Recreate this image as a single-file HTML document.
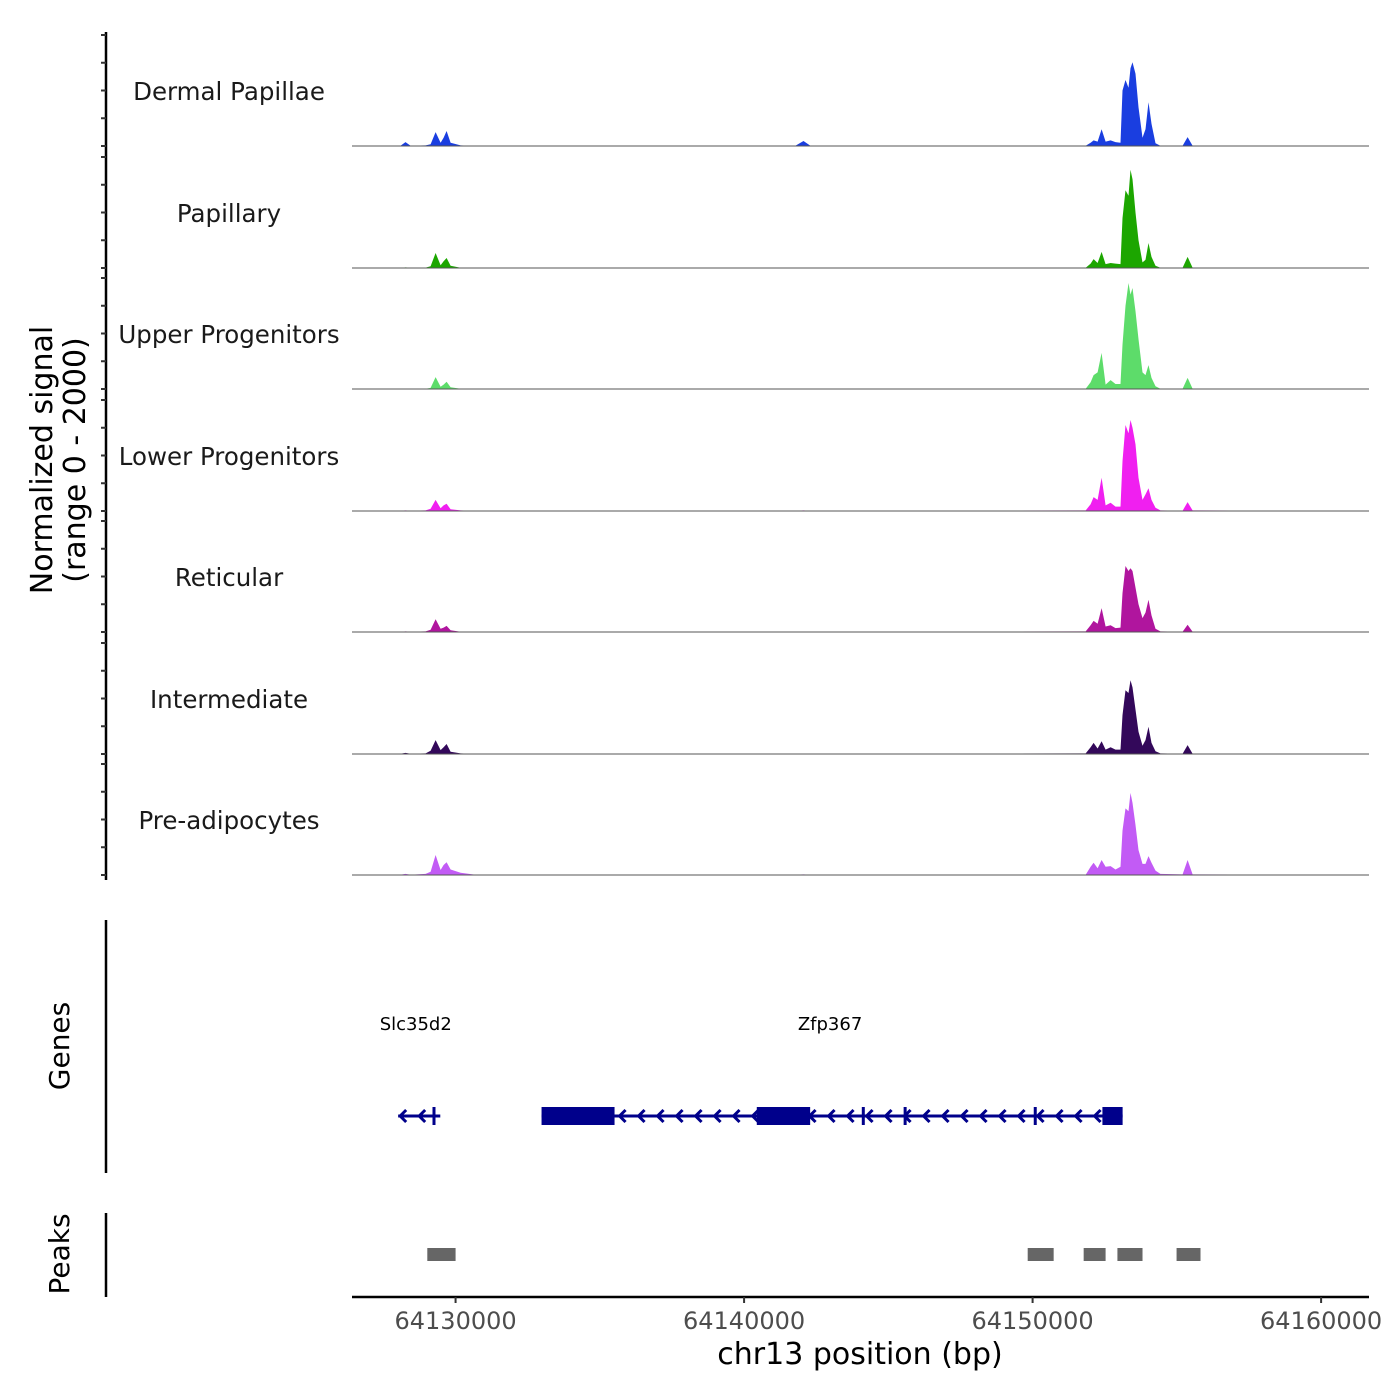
<!DOCTYPE html>
<html><head><meta charset="utf-8">
<style>
html,body{margin:0;padding:0;background:#fff;}
svg{display:block;font-family:"DejaVu Sans","Liberation Sans",sans-serif;}
</style></head>
<body>
<svg id="chart" width="1400" height="1400" viewBox="0 0 1400 1400" xmlns="http://www.w3.org/2000/svg"></svg>
<script>
// ---- data ----
const trackNames = ["Dermal Papillae","Papillary","Upper Progenitors","Lower Progenitors","Reticular","Intermediate","Pre-adipocytes"];
const trackColors = ["#1a3ee0","#1ca600","#5ddc6a","#f01ff0","#b0159e","#33085a","#c25bf5"];
const positions = [64126410,64128090,64128265,64128440,64128960,64129135,64129308,64129480,64129585,64129690,64129828,64130174,64130693,64141780,64142060,64142300,64151840,64152010,64152115,64152253,64152390,64152530,64152702,64152875,64153047,64153116,64153220,64153323,64153392,64153462,64153566,64153670,64153808,64153912,64154016,64154120,64154260,64154430,64155200,64155372,64155545,64161660];
const sigDermal = [0,5,70,5,10,30,250,60,150,270,60,10,0,5,90,5,5,60,100,80,300,80,100,70,60,1000,1190,1050,1400,1510,1300,700,150,300,790,400,50,5,5,160,5,0];
const sigPapillary = [0,2,10,3,8,30,270,50,120,180,40,5,0,0,5,0,5,80,160,90,290,70,90,80,70,900,1400,1300,1770,1600,1000,500,100,150,450,200,40,5,5,200,5,0];
const sigUpper = [0,2,5,3,5,20,215,40,80,130,30,5,0,0,5,0,5,120,250,300,650,80,160,90,90,800,1500,1910,1700,1820,1400,900,300,250,430,200,50,5,5,200,5,0];
const sigLower = [0,3,10,3,10,40,200,50,100,130,30,10,0,2,10,2,10,120,250,200,600,100,150,80,80,900,1550,1400,1640,1500,1200,600,200,300,410,200,60,10,5,160,10,0];
const sigReticular = [0,2,10,3,10,40,230,60,80,110,30,5,0,2,5,2,10,120,200,150,430,100,120,70,80,700,1190,1100,1150,1100,800,500,250,350,580,300,60,10,5,130,5,0];
const sigIntermediate = [0,3,20,5,10,60,250,70,120,180,40,10,0,2,5,2,10,120,200,100,230,80,120,80,80,700,1150,1100,1330,1200,800,400,150,250,490,200,50,10,5,160,5,0];
const sigPreadipo = [0,3,20,5,20,60,360,90,180,230,100,40,5,5,10,5,5,150,220,120,270,150,160,100,150,800,1200,1150,1480,1300,900,450,200,200,340,220,80,20,10,270,10,0];
const signals = [sigDermal,sigPapillary,sigUpper,sigLower,sigReticular,sigIntermediate,sigPreadipo];
const xTicks = [64130000,64140000,64150000,64160000];
const peakStarts = [64129020,64149830,64151770,64152940,64154990];
const peakEnds = [64130000,64150730,64152530,64153810,64155820];
const geneNames = ["Slc35d2","Zfp367"];
const geneStarts = [64128010,64132980];
const geneEnds = [64129470,64153120];
const geneLabelPos = [64128620,64142980];
const exonStarts = [64132980,64140440,64152490,64129200,64144080,64145530,64150040,64152420];
const exonEnds = [64135510,64142290,64153120,64129290,64144140,64145600,64150100,64152470];
// ---- scales ----
const X0=352,X1=1369,D0=64126410,D1=64161660;
const x = bp => X0 + (bp-D0)/(D1-D0)*(X1-X0);
const baselines=[146,268,389,511,632,754,875];
const H=111;
const y = (i,v) => baselines[i] - v/2000*H;
const svg=document.getElementById('chart');
const NS="http://www.w3.org/2000/svg";
function mk(tag,attrs,parent){const e=document.createElementNS(NS,tag);for(const k in attrs)e.setAttribute(k,attrs[k]);(parent||svg).appendChild(e);return e;}

// left axis
const ax=mk('line',{x1:106,y1:32,x2:106,y2:880,stroke:'#000','stroke-width':2.5});


for(let i=0;i<7;i++){for(let k=0;k<5;k++){const ty=baselines[i]-k*H/4;
 const t=mk('line',{x1:101,y1:ty,x2:106,y2:ty,stroke:'#333','stroke-width':2});
 
 }}
const yt=mk('text',{x:0,y:0,'font-size':30,'text-anchor':'middle',transform:'translate(52,460) rotate(-90)'});


yt.textContent='Normalized signal';
const yt2=mk('text',{x:0,y:0,'font-size':30,'text-anchor':'middle',transform:'translate(85,460) rotate(-90)'});


yt2.textContent='(range 0 - 2000)';

// tracks
for(let i=0;i<7;i++){
 const g=mk('g',{});
 
 
 let d='M'+x(positions[0])+','+baselines[i];
 for(let j=0;j<positions.length;j++) d+=' L'+x(positions[j]).toFixed(1)+','+y(i,signals[i][j]).toFixed(1);
 d+=' L'+x(positions[positions.length-1])+','+baselines[i]+' Z';
 const a=mk('path',{d:d,fill:trackColors[i]},g);
 
 
 const bl=mk('line',{x1:X0,y1:baselines[i],x2:X1,y2:baselines[i],stroke:'#555','stroke-width':1},g);
 
 
 const lb=mk('text',{x:229,y:baselines[i]-46,'font-size':24.5,'text-anchor':'middle',fill:'#1a1a1a'},g);
 
 
 lb.textContent=trackNames[i];
}

// genes
const ga=mk('line',{x1:106,y1:920,x2:106,y2:1173,stroke:'#000','stroke-width':2.5});


const gt=mk('text',{x:0,y:0,'font-size':28,'text-anchor':'middle',transform:'translate(69,1046) rotate(-90)'});


gt.textContent='Genes';
const GY=1116;
for(let i=0;i<geneNames.length;i++){
 const x1=x(geneStarts[i]),x2=x(geneEnds[i]);
 const l=mk('line',{x1:x1,y1:GY,x2:x2,y2:GY,stroke:'#00008b','stroke-width':3});
 
 
 for(let ax2=x1+2;ax2<x2-4;ax2+=19){
  const ar=mk('path',{d:`M${ax2+6},${GY-6} L${ax2},${GY} L${ax2+6},${GY+6}`,stroke:'#00008b','stroke-width':3,fill:'none'});
  
  
 }
 const t=mk('text',{x:x(geneLabelPos[i]),y:1030,'font-size':18,'text-anchor':'middle',fill:'#000'});
 
 
 t.textContent=geneNames[i];
}
for(let i=0;i<exonStarts.length;i++){
 const r=mk('rect',{x:x(exonStarts[i]),y:GY-9,width:Math.max(3,x(exonEnds[i])-x(exonStarts[i])),height:18,fill:'#00008b'});
 
 
}

// peaks
const pa=mk('line',{x1:106,y1:1213,x2:106,y2:1297,stroke:'#000','stroke-width':2.5});


const pt=mk('text',{x:0,y:0,'font-size':28,'text-anchor':'middle',transform:'translate(69,1254) rotate(-90)'});


pt.textContent='Peaks';
for(let i=0;i<peakStarts.length;i++){
 const r=mk('rect',{x:x(peakStarts[i]),y:1248,width:x(peakEnds[i])-x(peakStarts[i]),height:13,fill:'#666'});
 
 
}

// x axis
const xa=mk('line',{x1:X0,y1:1297,x2:X1,y2:1297,stroke:'#000','stroke-width':2.5});


for(const v of xTicks){
 const t=mk('line',{x1:x(v),y1:1297,x2:x(v),y2:1303,stroke:'#333','stroke-width':2});
 
 
 const l=mk('text',{x:x(v),y:1329,'font-size':24,'text-anchor':'middle',fill:'#4d4d4d'});
 
 
 l.textContent=String(v);
}
const xt=mk('text',{x:860,y:1364,'font-size':30,'text-anchor':'middle',fill:'#000'});


xt.textContent='chr13 position (bp)';
</script>
</body></html>
